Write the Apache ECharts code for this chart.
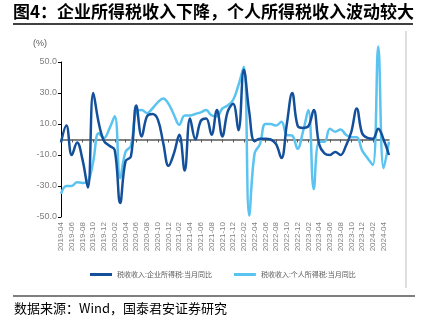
<!DOCTYPE html>
<html>
<head>
<meta charset="utf-8">
<script src="https://cdn.jsdelivr.net/npm/echarts@6/dist/echarts.min.js"></script>
<style>html,body{margin:0;padding:0;background:#fff;}#c{width:427px;height:324px;}</style>
</head>
<body>
<div id="c"></div>
<script>
var months = ['2019-04','2019-05','2019-06','2019-07','2019-08','2019-09','2019-10','2019-11','2019-12',
'2020-01','2020-02','2020-03','2020-04','2020-05','2020-06','2020-07','2020-08','2020-09','2020-10','2020-11','2020-12',
'2021-01','2021-02','2021-03','2021-04','2021-05','2021-06','2021-07','2021-08','2021-09','2021-10','2021-11','2021-12',
'2022-01','2022-02','2022-03','2022-04','2022-05','2022-06','2022-07','2022-08','2022-09','2022-10','2022-11','2022-12',
'2023-01','2023-02','2023-03','2023-04','2023-05','2023-06','2023-07','2023-08','2023-09','2023-10','2023-11','2023-12',
'2024-01','2024-02','2024-03','2024-04','2024-05'];
var corpTax = [-2,9,-10,-2,-13,-31,30,11,-1,-4,-7,-41,-14,-11,22,2,15,16.5,13,-2,-17,-9,3,-20,13.5,0,12,13.5,3,19,2,18,23,6,45,18,-1,0.5,0.5,0,-3,-12,10,30,9,7.5,8.5,19,-3,-9,-10,-8,-10,-4,5,20,4,1,0.5,7,0,-10];
var persTax = [-35,-30,-30,-27.5,-28,-27,-14,4,1,7,15,-25,-8,-4,18,19,17,20,24,26.5,23,16,9.5,15.5,15.5,16.5,17.5,19,15.5,15,20,22,25.5,35,47,-49,-9,-3,10,10,9,11.5,3,2.5,-6,5,19,-32,-1.5,-1.5,7,5,6.5,3,1.5,1.5,-7,-12,-16.5,60,-18.5,-1.5];
var seriesNames = ['税收收入:企业所得税:当月同比','税收收入:个人所得税:当月同比'];
var yTicks = [-50,-30,-10,10,30,50];

var chart = echarts.init(document.getElementById('c'));
chart.setOption({
  animation:false,
  backgroundColor:'#fff',
  grid:{left:61,right:38,top:62,bottom:107,containLabel:false},
  legend:{left:85,top:266,itemGap:22,itemWidth:22,itemHeight:3,icon:'rect',
    textStyle:{fontSize:7,color:'#595959',fontFamily:'Noto Sans CJK SC'},data:seriesNames},
  xAxis:[{type:'category',data:months,boundaryGap:false,position:'bottom',
      axisLine:{show:false,onZero:false},axisTick:{show:false},
      axisLabel:{interval:1,rotate:90,fontSize:8,color:'#808080',margin:5,fontFamily:'Liberation Sans'}},
    {type:'category',data:months,boundaryGap:false,position:'bottom',
      axisLine:{show:true,onZero:true,lineStyle:{color:'#595959',width:1.5}},
      axisTick:{show:true,interval:1,length:3,lineStyle:{color:'#595959',width:1}},
      axisLabel:{show:false}}],
  yAxis:{type:'value',min:yTicks[0],max:yTicks[yTicks.length-1],interval:20,
    splitLine:{show:false},
    axisLine:{show:true,lineStyle:{color:'#000',width:1}},
    axisTick:{show:true,length:3,lineStyle:{color:'#000'}},
    axisLabel:{fontSize:9,color:'#808080',margin:4,fontFamily:'Liberation Sans',formatter:function(v){return v.toFixed(1);}}},
  series:[
    {name:seriesNames[0],type:'line',data:corpTax,smooth:0.4,showSymbol:false,symbol:'none',clip:false,
      lineStyle:{color:'#14509a',width:2.5},itemStyle:{color:'#14509a'},z:3},
    {name:seriesNames[1],type:'line',data:persTax,smooth:0.4,showSymbol:false,symbol:'none',clip:false,
      lineStyle:{color:'#5ac3f0',width:2.5},itemStyle:{color:'#5ac3f0'},z:2}
  ],
  graphic:[
    {type:'text',left:13,top:3,style:{text:'图4：企业所得税收入下降，个人所得税收入波动较大',font:'bold 17px "Noto Sans CJK SC"',fill:'#000'}},
    {type:'line',shape:{x1:13,y1:24,x2:413,y2:24},style:{stroke:'#000',lineWidth:1.5}},
    {type:'text',left:33,top:39,style:{text:'(%)',font:'9px "Liberation Sans"',fill:'#595959'}},
    {type:'line',shape:{x1:406,y1:31,x2:406,y2:288},style:{stroke:'#bfbfbf',lineWidth:1}},
    {type:'line',shape:{x1:13,y1:296,x2:415,y2:296},style:{stroke:'#000',lineWidth:1.2}},
    {type:'text',left:14,top:302,style:{text:'数据来源：Wind，国泰君安证券研究',font:'13px "Noto Sans CJK SC"',fill:'#000'}}
  ]
});
</script>
</body>
</html>
